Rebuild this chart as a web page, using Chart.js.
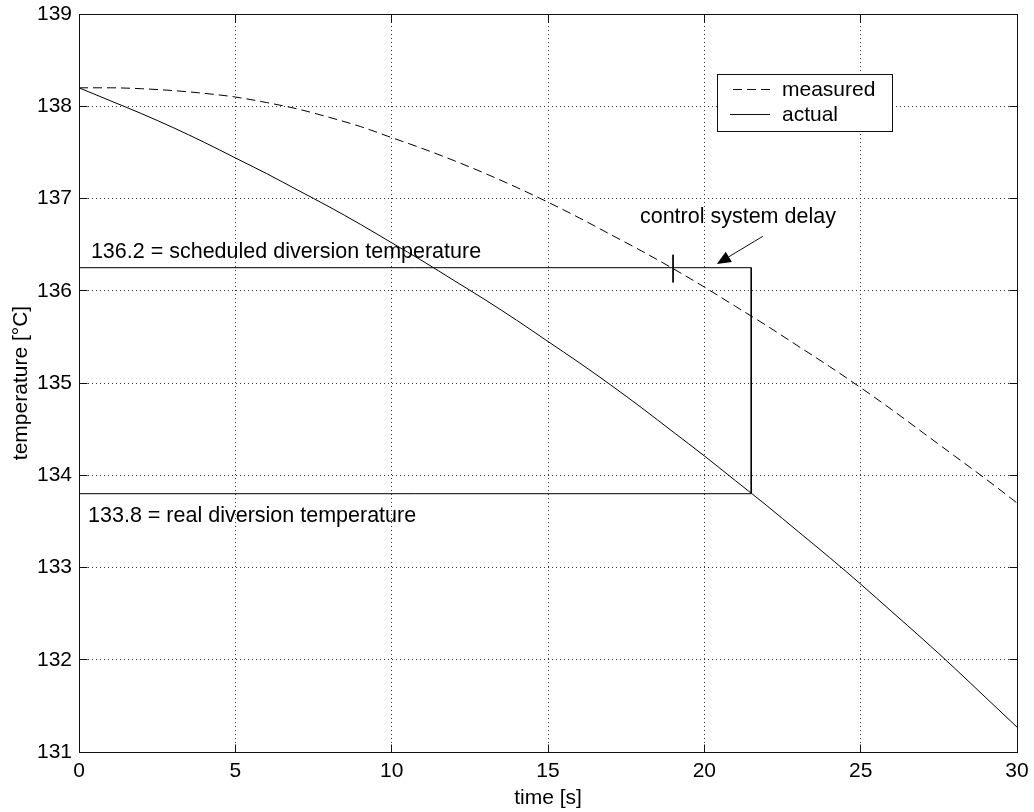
<!DOCTYPE html>
<html>
<head>
<meta charset="utf-8">
<title>Diversion temperature</title>
<script src="https://cdn.jsdelivr.net/npm/chart.js@4.4.0/dist/chart.umd.min.js"></script>
<style>
    html, body { margin: 0; padding: 0; background: #fff; }
    #wrap { width: 1034px; height: 812px; }
</style>
</head>
<body>
<div id="wrap"><canvas id="tempChart" width="1034" height="812"></canvas></div>
<script>
// Time axis [s]
const timeSeconds = [0, 1, 2, 3, 4, 5, 6, 7, 8, 9, 10, 11, 12, 13, 14, 15,
    16, 17, 18, 19, 20, 21, 22, 23, 24, 25, 26, 27, 28, 29, 30];

// Temperatures [°C]
const measuredTemp = [138.20, 138.20, 138.19, 138.17, 138.14, 138.10, 138.04, 137.97,
    137.88, 137.78, 137.66, 137.54, 137.41, 137.27, 137.12, 136.96, 136.79, 136.61,
    136.43, 136.24, 136.04, 135.83, 135.62, 135.40, 135.18, 134.95, 134.71, 134.46,
    134.21, 133.96, 133.70];
const actualTemp = [138.20, 138.06, 137.92, 137.77, 137.61, 137.44, 137.27, 137.09,
    136.91, 136.72, 136.52, 136.32, 136.11, 135.90, 135.68, 135.45, 135.22, 134.98,
    134.73, 134.47, 134.21, 133.94, 133.67, 133.39, 133.11, 132.82, 132.52, 132.22,
    131.91, 131.59, 131.27];

// Annotation values
const scheduledTemp = 136.25;
const realTemp = 133.8;
const diversionTime = 21.5;
const crossingTime = 19;
const crossingMark = [136.39, 136.09];
const arrowTail = { x: 21.87, y: 136.59 };
const arrowTip = { x: 20.40, y: 136.29 };

// Axis ranges / ticks
const xRange = [0, 30];
const yRange = [131, 139];
const xStep = 5;
const yStep = 1;

const FONT = "'Liberation Sans', Arial, sans-serif";
Chart.defaults.font.family = FONT;
Chart.defaults.font.size = 21;
Chart.defaults.color = '#000';

const toPoints = (xs, ys) => xs.map((t, i) => ({ x: t, y: ys[i] }));

function al(v) {
    return Math.round(v - 0.5) + 0.5;
}

/**
 * MATLAB-like frame: closed box, inward ticks, legend and text notes
 */
const matlabFrame = {
    id: 'matlabFrame',
    afterDraw(chart) {
        const { ctx, chartArea: a, scales: { x, y } } = chart;
        const L = al(a.left), R = al(a.right), T = al(a.top), B = al(a.bottom);
        ctx.save();
        ctx.strokeStyle = '#111';
        ctx.lineWidth = 1;
        ctx.setLineDash([]);
        ctx.strokeRect(L, T, R - L, B - T);

        // inward ticks on all four sides
        const tl = 8;
        ctx.beginPath();
        x.ticks.forEach(tk => {
            const px = al(x.getPixelForValue(tk.value));
            ctx.moveTo(px, B); ctx.lineTo(px, B - tl);
            ctx.moveTo(px, T); ctx.lineTo(px, T + tl);
        });
        y.ticks.forEach(tk => {
            const py = al(y.getPixelForValue(tk.value));
            ctx.moveTo(L, py); ctx.lineTo(L + tl, py);
            ctx.moveTo(R, py); ctx.lineTo(R - tl, py);
        });
        ctx.stroke();

        // text notes
        ctx.fillStyle = '#000';
        ctx.font = '21.5px ' + FONT;
        ctx.textBaseline = 'alphabetic';
        ctx.textAlign = 'left';
        ctx.fillText('136.2 = scheduled diversion temperature', x.getPixelForValue(0.38), y.getPixelForValue(136.355));
        ctx.fillText('133.8 = real diversion temperature', x.getPixelForValue(0.29), y.getPixelForValue(133.493));
        ctx.fillText('control system delay', x.getPixelForValue(17.94), y.getPixelForValue(136.73));

        // arrow
        const tx = x.getPixelForValue(arrowTail.x), ty = y.getPixelForValue(arrowTail.y);
        const hx = x.getPixelForValue(arrowTip.x), hy = y.getPixelForValue(arrowTip.y);
        const ang = Math.atan2(hy - ty, hx - tx);
        const hl = 14, hw = 6;
        ctx.beginPath();
        ctx.moveTo(tx, ty);
        ctx.lineTo(hx - hl * Math.cos(ang), hy - hl * Math.sin(ang));
        ctx.stroke();
        ctx.beginPath();
        ctx.moveTo(hx, hy);
        ctx.lineTo(hx - hl * Math.cos(ang) + hw * Math.sin(ang), hy - hl * Math.sin(ang) - hw * Math.cos(ang));
        ctx.lineTo(hx - hl * Math.cos(ang) - hw * Math.sin(ang), hy - hl * Math.sin(ang) + hw * Math.cos(ang));
        ctx.closePath();
        ctx.fill();

        // legend box
        const lx = 717, ly = 74, lw = 175, lh = 57;
        ctx.font = '21px ' + FONT;
        ctx.fillStyle = '#fff';
        ctx.fillRect(lx, ly, lw, lh);
        ctx.strokeRect(lx + 0.5, ly + 0.5, lw, lh);
        ctx.fillStyle = '#000';
        ctx.textBaseline = 'middle';
        ctx.beginPath();
        ctx.setLineDash([9, 5]);
        ctx.moveTo(733, 89.5); ctx.lineTo(772, 89.5);
        ctx.stroke();
        ctx.setLineDash([]);
        ctx.beginPath();
        ctx.moveTo(730, 114.5); ctx.lineTo(770, 114.5);
        ctx.stroke();
        ctx.fillText('measured', 782, 90);
        ctx.fillText('actual', 782, 115);
        ctx.restore();
    }
};

const ctx = document.getElementById('tempChart').getContext('2d');
const tempChart = new Chart(ctx, {
    type: 'line',
    data: {
        datasets: [{
            label: 'measured',
            data: toPoints(timeSeconds, measuredTemp),
            borderColor: '#000',
            borderWidth: 1,
            borderDash: [9, 5],
            pointRadius: 0,
            cubicInterpolationMode: 'monotone'
        }, {
            label: 'actual',
            data: toPoints(timeSeconds, actualTemp),
            borderColor: '#000',
            borderWidth: 1,
            pointRadius: 0,
            cubicInterpolationMode: 'monotone'
        }, {
            label: 'diversion',
            data: [
                { x: xRange[0], y: scheduledTemp },
                { x: diversionTime, y: scheduledTemp },
                { x: diversionTime, y: realTemp },
                { x: xRange[0], y: realTemp }
            ],
            borderColor: '#000',
            borderWidth: 1,
            pointRadius: 0,
            tension: 0
        }, {
            label: 'crossing',
            data: [
                { x: crossingTime, y: crossingMark[0] },
                { x: crossingTime, y: crossingMark[1] }
            ],
            borderColor: '#000',
            borderWidth: 1,
            pointRadius: 0
        }]
    },
    options: {
        responsive: false,
        animation: false,
        devicePixelRatio: 1,
        layout: { padding: { left: 0, top: 14, right: 17, bottom: 0 } },
        plugins: {
            legend: { display: false },
            tooltip: { enabled: false }
        },
        scales: {
            x: {
                type: 'linear',
                min: xRange[0],
                max: xRange[1],
                ticks: { stepSize: xStep, padding: 7, maxRotation: 0 },
                grid: { color: '#333', drawTicks: false },
                border: { display: true, color: '#111', dash: [1, 3] },
                title: { display: true, text: 'time [s]', padding: { top: 0, bottom: 1 } },
                afterFit(scale) {
                    scale.height = 60;
                    scale.paddingLeft = 0;
                    scale.paddingRight = 0;
                }
            },
            y: {
                min: yRange[0],
                max: yRange[1],
                ticks: { stepSize: yStep, padding: 7 },
                grid: { color: '#333', drawTicks: false },
                border: { display: true, color: '#111', dash: [1, 3] },
                title: { display: true, text: 'temperature [°C]', padding: { top: 9, bottom: 0 } },
                afterFit(scale) {
                    scale.width = 79;
                    scale.paddingTop = 0;
                    scale.paddingBottom = 0;
                }
            }
        }
    },
    plugins: [matlabFrame]
});
</script>
</body>
</html>
